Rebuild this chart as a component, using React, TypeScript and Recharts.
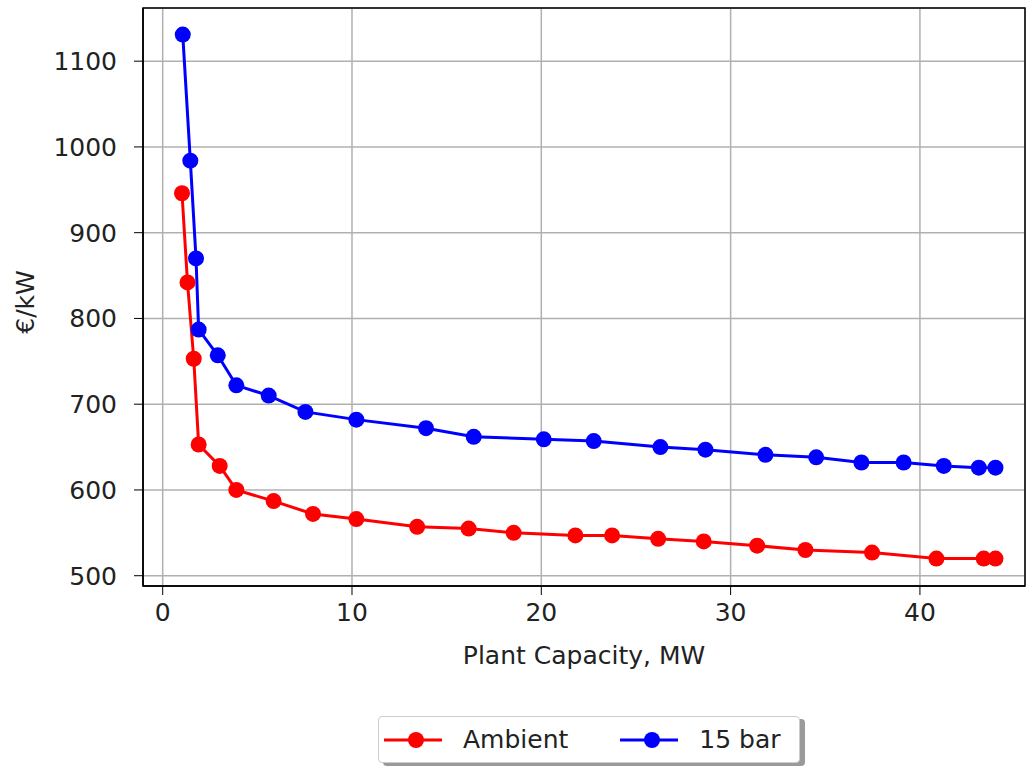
import React from "react";
import {
  LineChart,
  Line,
  XAxis,
  YAxis,
  CartesianGrid,
  ReferenceArea,
} from "recharts";

// values
const ambientCap = [1.02, 1.31, 1.64, 1.9, 3.01, 3.89, 5.86, 7.94, 10.23, 13.44, 16.16, 18.54, 21.8, 23.74, 26.17, 28.58, 31.4, 33.95, 37.47, 40.87, 43.37, 43.99];
const ambientCost = [946, 842, 753, 653, 628, 600, 587, 572, 566, 557, 555, 550, 547, 547, 543, 540, 535, 530, 527, 520, 520, 520];
const barCap = [1.06, 1.46, 1.76, 1.9, 2.91, 3.89, 5.6, 7.54, 10.23, 13.91, 16.43, 20.13, 22.77, 26.29, 28.67, 31.84, 34.52, 36.91, 39.14, 41.26, 43.11, 43.99];
const barCost = [1131, 984, 870, 787, 757, 722, 710, 691, 682, 672, 662, 659, 657, 650, 647, 641, 638, 632, 632, 628, 626, 626];

const xTicks = [0, 10, 20, 30, 40];
const yTicks = [500, 600, 700, 800, 900, 1000, 1100];
const xDomain = [-1.04, 45.55];
const yDomain = [488, 1162];

const ambient = ambientCap.map((x, i) => ({ x, y: ambientCost[i] }));
const bar15 = barCap.map((x, i) => ({ x, y: barCost[i] }));

const FONT = "DejaVu Sans";
const FS = 25;
const tickStyle = { fill: "#222", fontSize: FS, fontFamily: FONT };

const LegendItem = ({ color, label, gap }: { color: string; label: string; gap: number }) => (
  <div style={{ display: "flex", alignItems: "center", marginRight: gap }}>
    <svg width={58} height={20}>
      <line x1={0} y1={10} x2={58} y2={10} stroke={color} strokeWidth={3} />
      <circle cx={32} cy={10} r={8} fill={color} />
    </svg>
    <span style={{ marginLeft: 21 }}>{label}</span>
  </div>
);

export default function App() {
  return (
    <div style={{ position: "absolute", left: 0, top: 0, width: 1026, height: 766, background: "#fff" }}>
      <LineChart width={1026} height={766} margin={{ top: 8, right: 1, left: 0, bottom: 90 }}>
        <CartesianGrid stroke="#b0b0b0" strokeWidth={1.5} />
        <XAxis
          dataKey="x"
          type="number"
          domain={xDomain}
          ticks={xTicks}
          allowDataOverflow
          height={90}
          tickSize={9}
          tickMargin={8}
          tick={tickStyle}
          tickLine={{ stroke: "#000" }}
          axisLine={{ stroke: "#000", strokeWidth: 1.5 }}
          label={{ value: "Plant Capacity, MW", position: "insideBottom", offset: 12, fill: "#222", fontSize: FS, fontFamily: FONT }}
        />
        <YAxis
          dataKey="y"
          type="number"
          domain={yDomain}
          ticks={yTicks}
          allowDataOverflow
          width={143}
          tickSize={9}
          tickMargin={17}
          tick={tickStyle}
          tickLine={{ stroke: "#000" }}
          axisLine={{ stroke: "#000", strokeWidth: 1.5 }}
          label={(props: any) => {
            const vb = props.viewBox || {};
            const cy = vb.y + vb.height / 2 + 5;
            return (
              <text
                x={25}
                y={cy}
                transform={`rotate(-90 25 ${cy})`}
                textAnchor="middle"
                dominantBaseline="central"
                fill="#222"
                fontSize={FS}
                fontFamily={FONT}
              >
                €/kW
              </text>
            );
          }}
        />
        <ReferenceArea
          x1={xDomain[0]}
          x2={xDomain[1]}
          y1={yDomain[0]}
          y2={yDomain[1]}
          fill="none"
          stroke="#000"
          strokeWidth={1.5}
          ifOverflow="visible"
        />
        <Line
          data={ambient}
          dataKey="y"
          name="Ambient"
          stroke="#ff0000"
          strokeWidth={3}
          dot={{ r: 8, fill: "#ff0000", stroke: "none" }}
          isAnimationActive={false}
        />
        <Line
          data={bar15}
          dataKey="y"
          name="15 bar"
          stroke="#0000ff"
          strokeWidth={3}
          dot={{ r: 8, fill: "#0000ff", stroke: "none" }}
          isAnimationActive={false}
        />
      </LineChart>
      <div
        style={{
          position: "absolute",
          left: 378,
          top: 716,
          width: 422,
          height: 47,
          boxSizing: "border-box",
          border: "1.5px solid #cccccc",
          borderRadius: 4,
          boxShadow: "5px 3px 0 #9a9a9a",
          background: "#fff",
          display: "flex",
          alignItems: "center",
          paddingLeft: 5,
          fontFamily: FONT,
          fontSize: FS,
          color: "#222",
        }}
      >
        <LegendItem color="#ff0000" label="Ambient" gap={52} />
        <LegendItem color="#0000ff" label="15 bar" gap={0} />
      </div>
    </div>
  );
}
